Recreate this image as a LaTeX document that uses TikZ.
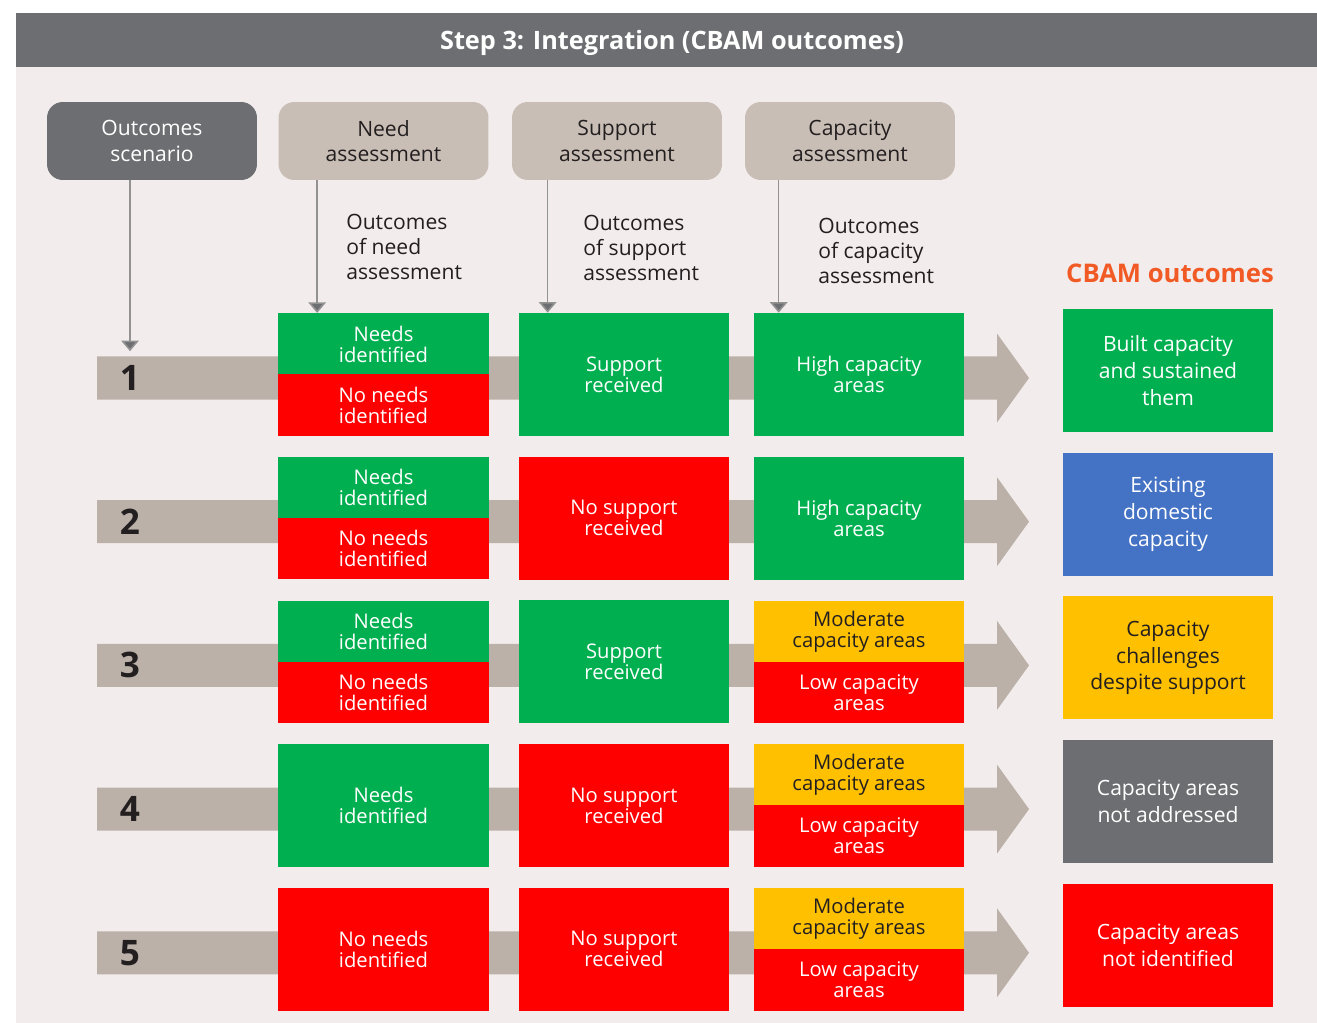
\documentclass[tikz,border=0pt]{standalone}
\usepackage{fontspec}
\setmainfont{Open Sans}
\usetikzlibrary{positioning,arrows.meta,calc}
\definecolor{ink}    {HTML}{231F20}
\definecolor{slate}  {HTML}{6D6E71}
\definecolor{panel}  {HTML}{F2ECEC}
\definecolor{sand}   {HTML}{C9BEB5}
\definecolor{track}  {HTML}{BCB1A9}
\definecolor{okgreen}{HTML}{00B050}
\definecolor{nored}  {HTML}{FF0000}
\definecolor{amber}  {HTML}{FFC000}
\definecolor{steel}  {HTML}{4472C4}
\definecolor{flame}  {HTML}{F15A24}
\definecolor{wire}   {HTML}{929292}
\tikzset{
  % --- nodes
  hdr/.style   = {rounded corners=9pt, minimum width=4.2cm, minimum height=1.56cm,
                  inner sep=0pt, align=center, fill=sand, text=ink,
                  font=\fontsize{12}{14.6}\selectfont},
  scen/.style  = {hdr, fill=slate, text=white},
  cell/.style  = {minimum width=4.22cm, minimum height=2.46cm, inner sep=0pt,
                  align=center, text=white, font=\fontsize{11.5}{12}\selectfont},
  half/.style  = {cell, minimum height=1.23cm},
  cgo/.style   = {fill=okgreen},
  cno/.style   = {fill=nored},
  cmid/.style  = {fill=amber, text=ink},
  outc/.style  = {cell, minimum width=4.2cm, font=\fontsize{12}{15.2}\selectfont},
  note/.style  = {anchor=west, align=left, inner sep=0pt, text=ink,
                  font=\fontsize{12}{14.2}\selectfont},
  num/.style   = {inner sep=0pt, minimum height=1.06cm, text=ink,
                  font=\fontsize{20}{20}\selectfont\bfseries},
  % --- edges
  down/.style  = {-{Triangle[width=10pt,length=6pt,fill=slate]}, draw=wire, line width=0.9pt},
}

\begin{document}
\begin{tikzpicture}[x=0.02cm, y=-0.02cm]
  \useasboundingbox (0,0) rectangle (1317,1023);
  \fill[panel] (16,67) rectangle (1317,1023);
  \fill[slate] (16,13) rectangle (1317,67);
  \node[text=white, font=\fontsize{14.4}{15}\selectfont\bfseries] (title) at (672,43)
    {Step 3: Integration (CBAM outcomes)};

  % column heads
  \node[scen] (scen) at (152,141) {Outcomes\\scenario};
  \node[hdr]  (need) at (383.5,141) {Need\\assessment};
  \node[hdr]  (sup)  at (617,141) {Support\\assessment};
  \node[hdr]  (cap)  at (850,141) {Capacity\\assessment};

  \node[note] (needtxt) at (346,247) {Outcomes\\of need\\assessment};
  \node[note] (suptxt)  at (583,248) {Outcomes\\of support\\assessment};
  \node[note] (captxt)  at (818,251) {Outcomes\\of capacity\\assessment};
  \node[text=flame, font=\fontsize{14.6}{15}\selectfont\bfseries] (cbam) at (1170,273)
    {CBAM outcomes};

  % scenario tracks
  \foreach \i in {1,...,5} {
    \pgfmathsetmacro\yc{378+143.7*(\i-1)}
    \fill[track] (97,\yc-21.5) -- (997,\yc-21.5) -- (997,\yc-44.5) -- (1029,\yc)
      -- (997,\yc+44.5) -- (997,\yc+21.5) -- (97,\yc+21.5) -- cycle;
    \node[num] (r\i) at (130,\yc) {\i};
  }

  % row 1
  \node[half,cgo] (n1a) at (383.5,344) {Needs\\identified};
  \node[half,cno] (n1b) at (383.5,405) {No needs\\identified};
  \node[cell,cgo] (s1) at (624,374.5) {Support\\received};
  \node[cell,cgo] (c1) at (859,374.5) {High capacity\\areas};
  \node[outc,cgo] (o1) at (1168,370.5) {Built capacity\\and sustained\\them};
  % row 2
  \node[half,cgo] (n2a) at (383.5,487.7) {Needs\\identified};
  \node[half,cno] (n2b) at (383.5,548.7) {No needs\\identified};
  \node[cell,cno] (s2) at (624,518.2) {No support\\received};
  \node[cell,cgo] (c2) at (859,518.2) {High capacity\\areas};
  \node[outc,fill=steel] (o2) at (1168,514.2) {Existing\\domestic\\capacity};
  % row 3
  \node[half,cgo] (n3a) at (383.5,631.4) {Needs\\identified};
  \node[half,cno] (n3b) at (383.5,692.4) {No needs\\identified};
  \node[cell,cgo] (s3) at (624,661.9) {Support\\received};
  \node[half,cmid] (c3a) at (859,631.4) {Moderate\\capacity areas};
  \node[half,cno] (c3b) at (859,692.4) {Low capacity\\areas};
  \node[outc,cmid] (o3) at (1168,657.9) {Capacity\\challenges\\despite support};
  % row 4
  \node[cell,cgo] (n4) at (383.5,805.6) {Needs\\identified};
  \node[cell,cno] (s4) at (624,805.6) {No support\\received};
  \node[half,cmid] (c4a) at (859,775.1) {Moderate\\capacity areas};
  \node[half,cno] (c4b) at (859,836.1) {Low capacity\\areas};
  \node[outc,fill=slate] (o4) at (1168,801.6) {Capacity areas\\not addressed};
  % row 5
  \node[cell,cno] (n5) at (383.5,949.3) {No needs\\identified};
  \node[cell,cno] (s5) at (624,949.3) {No support\\received};
  \node[half,cmid] (c5a) at (859,918.8) {Moderate\\capacity areas};
  \node[half,cno] (c5b) at (859,979.8) {Low capacity\\areas};
  \node[outc,cno] (o5) at (1168,945.3) {Capacity areas\\not identified};

  % feeds into the first row
  \draw[down] (scen.south -| r1.north) -- (r1.north);
  \draw[down] ([xshift=.78cm]need.south west) -- ([xshift=.78cm]need.south west |- n1a.north);
  \draw[down] ([xshift=.72cm]sup.south west) -- ([xshift=.72cm]sup.south west |- s1.north);
  \draw[down] ([xshift=.68cm]cap.south west) -- ([xshift=.68cm]cap.south west |- c1.north);
\end{tikzpicture}
\end{document}
